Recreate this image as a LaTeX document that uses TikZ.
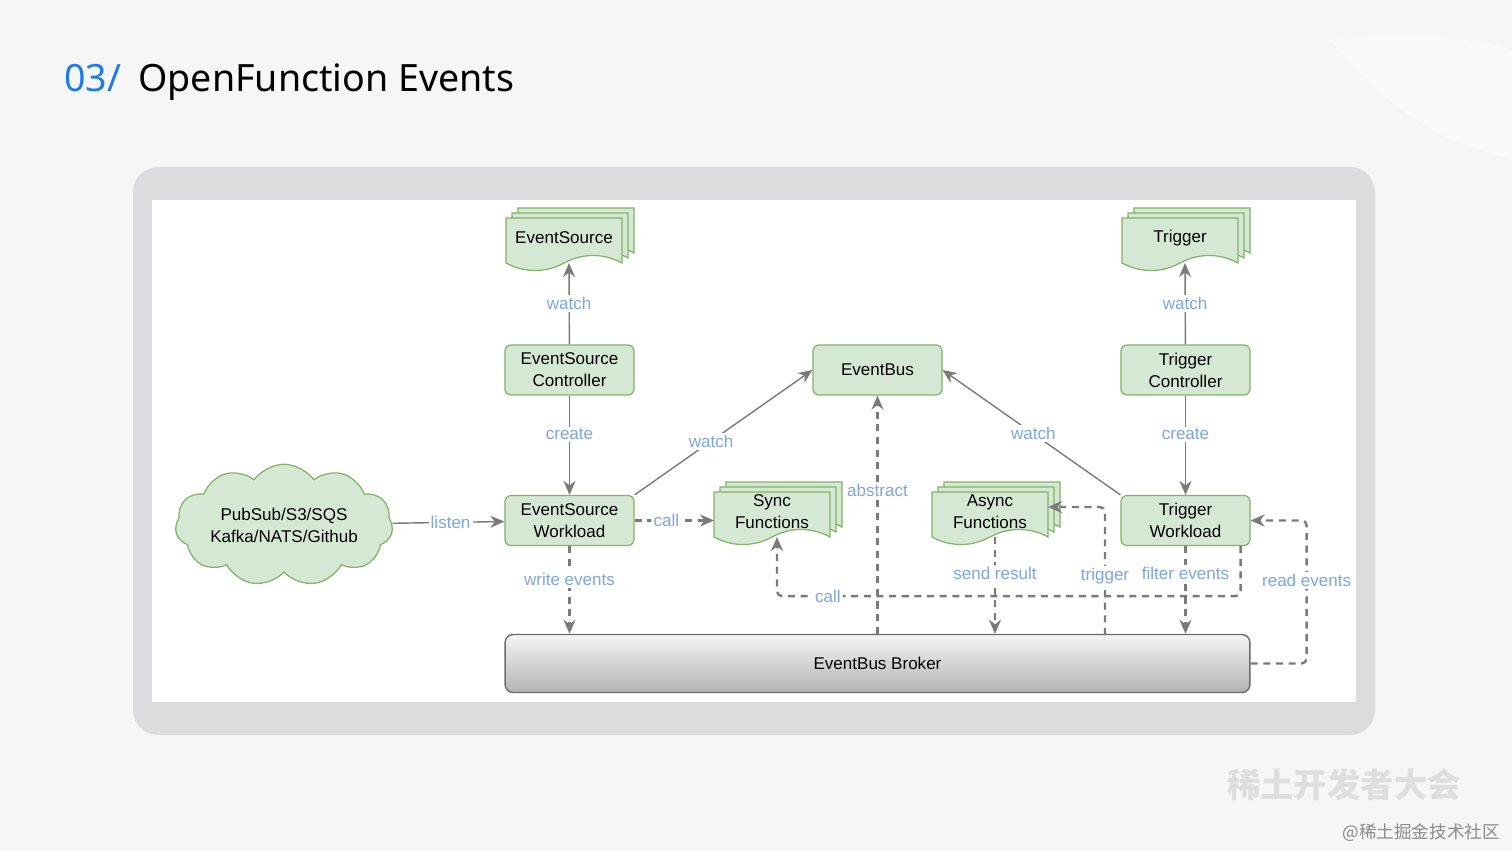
\documentclass[tikz,border=0pt]{standalone}
\usepackage{fontspec}
\setmainfont{Liberation Sans}
\newfontfamily\titlefont{Noto Sans}
\newfontfamily\cjkfont{Noto Sans CJK SC}
\usetikzlibrary{arrows.meta,shapes.symbols,calc}

\definecolor{nodefill}{HTML}{D5E8D4}
\definecolor{nodeline}{HTML}{82B366}
\definecolor{edgegray}{HTML}{7A7A7A}
\definecolor{lblblue}{HTML}{7EA6E0}
\definecolor{titleblue}{HTML}{1E7BE8}
\definecolor{framegray}{HTML}{DCDCDE}
\definecolor{slidebg}{HTML}{F6F6F7}

\tikzset{
  docline/.style={draw=nodeline, fill=nodefill, line width=0.7pt},
  docstack/.pic={
    \foreach \dx/\dy in {12/-10,6/-5,0/0}{
      \path[docline, shift={(\dx,\dy)}] (-58,-22) -- (58,-22) -- (58,23)
        .. controls (40,13) and (18,13) .. (0,23)
        .. controls (-18,33) and (-40,33) .. (-58,23) -- cycle;
    }
    \node[txt, align=center] (-t) at (0,-2) {#1};
    \coordinate (-bot) at (5,23);
    \coordinate (-e) at (58,-7);
    \coordinate (-w) at (-58,6);
  }
}

\begin{document}
\begin{tikzpicture}[x=0.02cm, y=-0.02cm,
  txt/.style={font=\fontsize{9.7}{12.5}\selectfont, text=black},
  box/.style={txt, draw=nodeline, fill=nodefill, line width=0.7pt, rounded corners=0.12cm,
    minimum width=2.58cm, minimum height=1cm, align=center, inner sep=1pt},
  lbl/.style={font=\fontsize{9.7}{11}\selectfont, text=lblblue, fill=white, inner sep=1.2pt},
  conn/.style={draw=edgegray, line width=0.8pt, -{Stealth[length=2.8mm, width=2.4mm]}},
  dconn/.style={conn, line width=1.35pt, dash pattern=on 4pt off 3.2pt, rounded corners=0.1cm},
  ]
  \useasboundingbox (0,0) rectangle (1512,851);
  \fill[slidebg] (0,0) rectangle (1512,851);
  \fill[white, opacity=0.5] (1330,40) .. controls (1420,30) and (1480,40) .. (1512,50) -- (1512,160) .. controls (1440,140) and (1400,120) .. (1330,40);

  % title
  \node[anchor=base west, inner sep=0, font=\titlefont\fontsize{21.4}{24}\selectfont, text=titleblue] (num) at (64,92) {03/};
  \node[anchor=base west, inner sep=0, font=\titlefont\fontsize{21.4}{24}\selectfont] (title) at (138,92) {OpenFunction Events};

  % frame
  \fill[framegray, rounded corners=0.5cm] (133,167) rectangle (1375,735);
  \fill[white] (152,200) rectangle (1356,702);

  % nodes
  \pic (es) at (564,240) {docstack={EventSource}};
  \pic (tr) at (1180,240) {docstack={Trigger}};
  \pic (sf) at (772,514) {docstack={Sync\\Functions}};
  \pic (af) at (990,514) {docstack={Async\\Functions}};

  \node[box] (esc) at (569.5,370) {EventSource\\Controller};
  \node[box] (esw) at (569.5,520.5) {EventSource\\Workload};
  \node[box] (bus) at (877.5,370) {EventBus};
  \node[box] (tc) at (1185.5,370) {Trigger\\Controller};
  \node[box] (tw) at (1185.5,520.5) {Trigger\\Workload};

  \node[cloud, cloud puffs=11, cloud puff arc=110, aspect=2.2, draw=nodeline, fill=nodefill,
    line width=0.7pt, minimum width=4.35cm, minimum height=2.1cm, align=center, txt,
    inner sep=0pt] (src) at (284,525) {PubSub/S3/SQS\\Kafka/NATS/Github};

  \node[txt, draw=black!58, line width=0.8pt, rounded corners=0.16cm, top color=black!4,
    bottom color=black!30, minimum width=14.9cm, minimum height=1.16cm] (broker) at (877.5,663.5) {EventBus Broker};

  \coordinate (trg) at (1105,635);

  % solid edges
  \draw[conn] (esc) -- node[lbl]{watch} (es-bot);
  \draw[conn] (esc) -- node[lbl, pos=0.39]{create} (esw);
  \draw[conn] (tc) -- node[lbl]{watch} (tr-bot);
  \draw[conn] (tc) -- node[lbl, pos=0.39]{create} (tw);
  \draw[conn] (src) -- node[lbl, pos=0.52]{listen} (esw);
  \draw[conn] (esw.north east) -- node[lbl, pos=0.43]{watch} (bus.west);
  \draw[conn] (tw.north west) -- node[lbl, pos=0.49]{watch} (bus.east);

  % dashed edges
  \draw[dconn] (esw) -- node[lbl, pos=0.4]{call} (sf-w |- esw);
  \draw[dconn] (esw) -- node[lbl, pos=0.38]{write events} (esw |- broker.north);
  \draw[dconn] (broker.north) -- node[lbl, pos=0.6]{abstract} (bus);
  \draw[dconn] (af-bot) -- node[lbl, pos=0.38]{send result} (af-bot |- broker.north);
  \draw[dconn] (trg) |- node[lbl, pos=0.23]{trigger} (af-e);
  \draw[dconn] (tw) -- node[lbl, pos=0.31]{filter events} (tw |- broker.north);
  \draw[dconn] ($(tw.south east)+(-10,0)$) -- ++(0,50) -| node[lbl, pos=0.445]{call} (sf-bot);
  \draw[dconn] (broker.east) -- ++(56,0) |- node[lbl, pos=0.29]{read events} (tw.east);

  % watermark
  \node[font=\cjkfont\bfseries\fontsize{19}{22}\selectfont, text=black!13, anchor=center] (wm) at (1344,785) {稀土开发者大会};
  \node[font=\cjkfont\fontsize{10}{12}\selectfont, text=black!45, anchor=east] (wm2) at (1506,833) {@稀土掘金技术社区};
\end{tikzpicture}
\end{document}
